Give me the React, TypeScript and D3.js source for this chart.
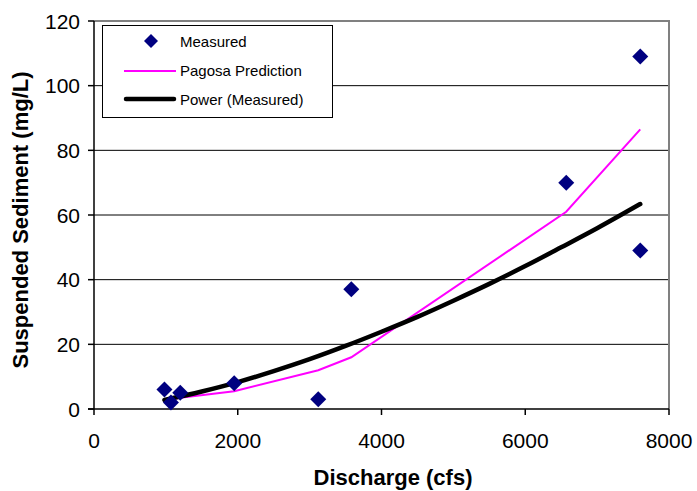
import React from "react";
import * as d3 from "d3";

const measuredQ = [980, 1070, 1200, 1950, 3120, 3580, 6570, 7600, 7600];
const measuredSSC = [6, 2, 5, 8, 3, 37, 70, 109, 49];

const pagosaQ = [980, 1070, 1200, 1950, 3120, 3580, 6570, 7600];
const pagosaSSC = [2.7, 3.0, 3.5, 5.5, 12, 16, 61, 86.5];

const powerQ = [980, 1500, 2000, 2500, 3000, 3500, 4000, 4500, 5000, 5500, 6000, 6500, 7000, 7600];
const powerSSC = [2.8, 5.4, 8.3, 11.7, 15.4, 19.5, 23.9, 28.5, 33.5, 38.7, 44.2, 50.0, 55.9, 63.4];

const xTicks = [0, 2000, 4000, 6000, 8000];
const yTicks = [0, 20, 40, 60, 80, 100, 120];

const legendLabels = ["Measured", "Pagosa Prediction", "Power (Measured)"];

const W = 697;
const H = 491;
const FONT = "Liberation Sans, Arial, sans-serif";

export default function App() {
  const x = d3.scaleLinear().domain([0, 8000]).range([94, 669]);
  const y = d3.scaleLinear().domain([0, 120]).range([409, 21]);

  const pagosa = pagosaQ.map((q, i) => [q, pagosaSSC[i]] as [number, number]);
  const power = powerQ.map((q, i) => [q, powerSSC[i]] as [number, number]);
  const line = d3
    .line<[number, number]>()
    .x((d) => x(d[0]))
    .y((d) => y(d[1]));
  const smooth = d3
    .line<[number, number]>()
    .x((d) => x(d[0]))
    .y((d) => y(d[1]))
    .curve(d3.curveMonotoneX);

  const diamond = (cx: number, cy: number, r: number) =>
    `M${cx},${cy - r}L${cx + r},${cy}L${cx},${cy + r}L${cx - r},${cy}Z`;

  return (
    <svg
      width={W}
      height={H}
      style={{ position: "absolute", left: 0, top: 0, background: "#fff" }}
      fontFamily={FONT}
    >
      {yTicks.slice(1, -1).map((t) => (
        <line key={t} x1={x(0)} x2={x(8000)} y1={y(t)} y2={y(t)} stroke="#000" strokeWidth={1} />
      ))}
      <line x1={x(0)} x2={x(8000) + 1} y1={y(120)} y2={y(120)} stroke="#808080" strokeWidth={2} />
      <line x1={x(8000)} x2={x(8000)} y1={y(120)} y2={y(0)} stroke="#808080" strokeWidth={2} />
      <line x1={x(0)} x2={x(0)} y1={y(120)} y2={y(0)} stroke="#000" strokeWidth={1.5} />
      <line x1={x(0) - 6} x2={x(8000)} y1={y(0)} y2={y(0)} stroke="#000" strokeWidth={1.5} />
      {yTicks.map((t) => (
        <g key={"yt" + t}>
          <line x1={x(0) - 6} x2={x(0)} y1={y(t)} y2={y(t)} stroke="#000" strokeWidth={1.5} />
          <text x={80} y={y(t) + 7.5} textAnchor="end" fontSize={21} fill="#000">
            {t}
          </text>
        </g>
      ))}
      {xTicks.map((t) => (
        <g key={"xt" + t}>
          <line x1={x(t)} x2={x(t)} y1={y(0)} y2={y(0) + 6} stroke="#000" strokeWidth={1.5} />
          <text x={x(t)} y={448} textAnchor="middle" fontSize={21} fill="#000">
            {t}
          </text>
        </g>
      ))}
      <text x={393} y={485} textAnchor="middle" fontSize={22} fontWeight="bold" fill="#000">
        Discharge (cfs)
      </text>
      <text
        transform={`translate(28,220) rotate(-90)`}
        textAnchor="middle"
        fontSize={22}
        fontWeight="bold"
        fill="#000"
      >
        Suspended Sediment (mg/L)
      </text>

      <path d={line(pagosa) || ""} fill="none" stroke="#FF00FF" strokeWidth={2} />
      <path d={smooth(power) || ""} fill="none" stroke="#000" strokeWidth={4.5} strokeLinecap="round" />
      {measuredQ.map((q, i) => (
        <path key={"m" + i} d={diamond(x(q), y(measuredSSC[i]), 8)} fill="#000080" />
      ))}

      <rect x={102.5} y={25.5} width={230} height={92} fill="#fff" stroke="#000" strokeWidth={1} />
      <path d={diamond(151, 41, 7)} fill="#000080" />
      <line x1={124} x2={176} y1={71} y2={71} stroke="#FF00FF" strokeWidth={2} />
      <line x1={126} x2={174} y1={99} y2={99} stroke="#000" strokeWidth={4.5} strokeLinecap="round" />
      {legendLabels.map((l, i) => (
        <text key={l} x={180} y={46.5 + i * 29.2} fontSize={15} fill="#000">
          {l}
        </text>
      ))}
    </svg>
  );
}
